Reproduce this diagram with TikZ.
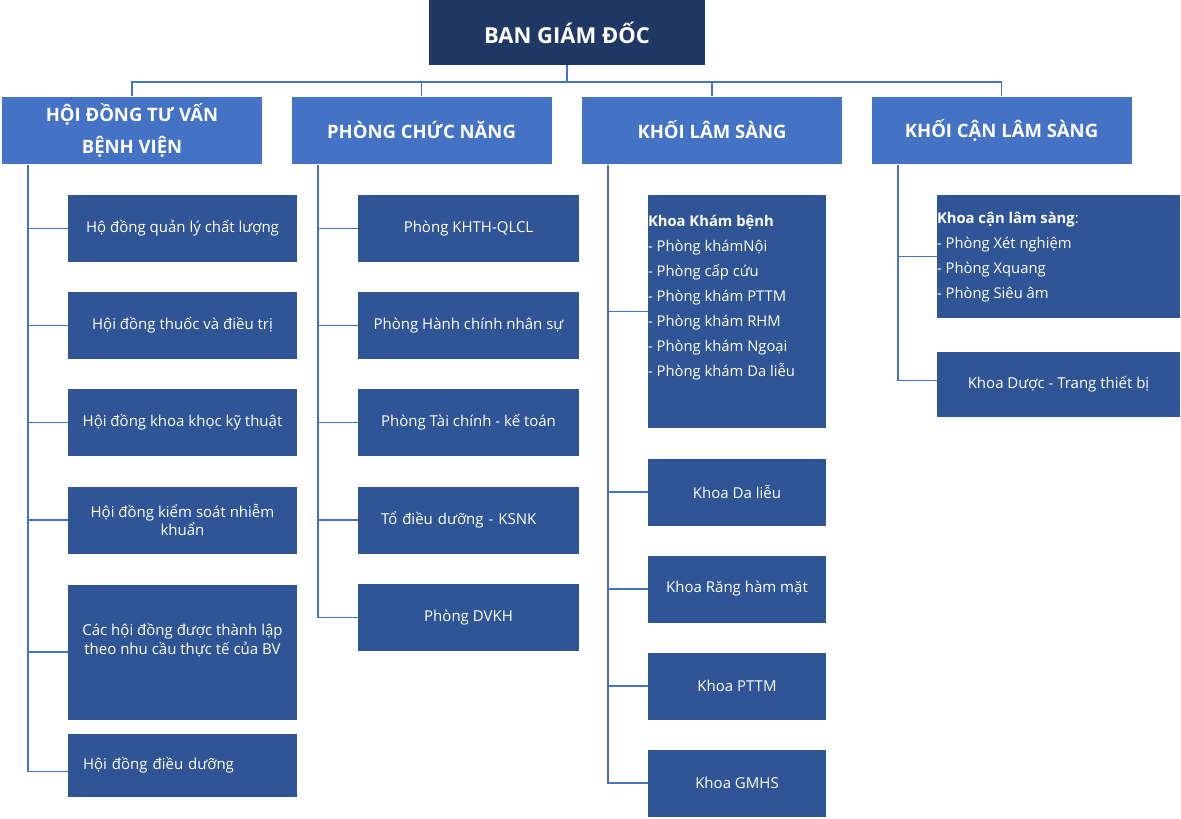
\documentclass[tikz,border=0pt]{standalone}
\usepackage{fontspec}
\setmainfont{Open Sans}
\definecolor{navy}{HTML}{203864}
\definecolor{midblue}{HTML}{4472C4}
\definecolor{deepblue}{HTML}{2F5597}
\tikzset{
  topbox/.style={fill=navy, text=white, font=\bfseries\fontsize{22}{26}\selectfont,
    minimum width=276pt, minimum height=65pt, inner sep=0pt},
  headbox/.style={fill=midblue, text=white, font=\bfseries\fontsize{18.5}{32}\selectfont,
    minimum width=260pt, minimum height=67pt, align=center, inner sep=0pt},
  subbox/.style={fill=deepblue, text=white, font=\fontsize{15}{18.5}\selectfont,
    align=center, inner sep=0pt, minimum height=67pt},
  listtext/.style={text=white, font=\fontsize{14.8}{25}\selectfont, align=left, inner sep=0pt},
  link/.style={draw=midblue, line width=1.3pt},
}
\begin{document}
\begin{tikzpicture}[x=1pt, y=-1pt]
  \useasboundingbox (0,0) rectangle (1181,819);
  % top and heads
  \node[topbox] (bgd) at (567,32.5) {BAN GIÁM ĐỐC};
  \node[headbox] (hdtv) at (132,130) {HỘI ĐỒNG TƯ VẤN\\BỆNH VIỆN};
  \node[headbox] (pcn) at (421.5,130) {PHÒNG CHỨC NĂNG};
  \node[headbox] (kls) at (712,130) {KHỐI LÂM SÀNG};
  \node[headbox] (kcls) at (1001.5,130) {KHỐI CẬN LÂM SÀNG};
  \coordinate (bus) at (567,82);
  \draw[link] (bgd.south) -- (bus);
  \foreach \h in {hdtv,pcn,kls,kcls}
    \draw[link] (bus) -| (\h.north);
  % hoi dong
  \begin{scope}[every node/.style={subbox, minimum width=229pt}]
    \node (hd1) at (182.5,228.5) {Hộ đồng quản lý chất lượng};
    \node (hd2) at (182.5,325.5) {Hội đồng thuốc và điều trị};
    \node (hd3) at (182.5,422.5) {Hội đồng khoa khọc kỹ thuật};
    \node (hd4) at (182.5,520) {Hội đồng kiểm soát nhiễm\\khuẩn};
    \node[minimum height=135pt] (hd5) at (182.5,652) {Các hội đồng được thành lập\\theo nhu cầu thực tế của BV\\[8pt]};
    \node[minimum height=63pt, align=left, text width=199pt, inner xsep=15pt] (hd6) at (182.5,765.5) {Hội đồng điều dưỡng};
  \end{scope}
  \coordinate (hdtvs) at (28,165);
  \foreach \n in {1,...,5}
    \draw[link] (hdtvs) |- (hd\n.west);
  \draw[link] (hdtvs) |- ([yshift=-6pt]hd6.west);
  % phong chuc nang
  \begin{scope}[every node/.style={subbox, minimum width=221pt}]
    \node (pc1) at (468.5,228.5) {Phòng KHTH-QLCL};
    \node (pc2) at (468.5,325.5) {Phòng Hành chính nhân sự};
    \node (pc3) at (468.5,422.5) {Phòng Tài chính - kế toán};
    \node[align=left, text width=175pt, inner xsep=23pt] (pc4) at (468.5,520) {Tổ điều dưỡng - KSNK};
    \node (pc5) at (468.5,617.5) {Phòng DVKH};
  \end{scope}
  \coordinate (pcns) at (318,165);
  \foreach \n in {1,...,5}
    \draw[link] (pcns) |- (pc\n.west);
  % khoi lam sang
  \begin{scope}[every node/.style={subbox, minimum width=178pt}]
    \node[minimum height=233pt] (kls1) at (737,311.5) {};
    \node (kls2) at (737,492) {Khoa Da liễu};
    \node (kls3) at (737,589) {Khoa Răng hàm mặt};
    \node (kls4) at (737,686) {Khoa PTTM};
    \node (kls5) at (737,783) {Khoa GMHS};
  \end{scope}
  \node[listtext, anchor=north west] (kkb) at ([yshift=-20pt]kls1.north west)
    {\textbf{Khoa Khám bệnh}\\- Phòng khámNội\\- Phòng cấp cứu\\- Phòng khám PTTM\\- Phòng khám RHM\\- Phòng khám Ngoại\\- Phòng khám Da liễu};
  \coordinate (klss) at (608,165);
  \foreach \n in {1,...,5}
    \draw[link] (klss) |- (kls\n.west);
  % khoi can lam sang
  \begin{scope}[every node/.style={subbox, minimum width=243pt}]
    \node[minimum height=123pt] (cls1) at (1058.5,256.5) {};
    \node[minimum height=65pt] (cls2) at (1058.5,384.5) {Khoa Dược - Trang thiết bị};
  \end{scope}
  \node[listtext, anchor=north west] (kclst) at ([yshift=-17pt]cls1.north west)
    {\textbf{Khoa cận lâm sàng}:\\- Phòng Xét nghiệm\\- Phòng Xquang\\- Phòng Siêu âm};
  \coordinate (kclss) at (898,165);
  \draw[link] (kclss) |- (cls1.west);
  \draw[link] (kclss) |- ([yshift=4pt]cls2.west);
\end{tikzpicture}
\end{document}
